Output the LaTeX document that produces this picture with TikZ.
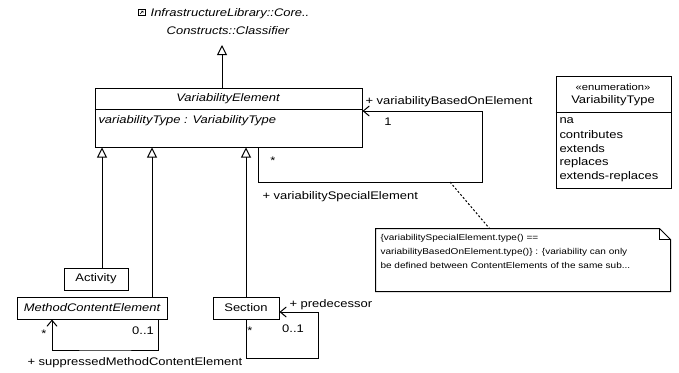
\documentclass[tikz,border=0pt]{standalone}
\usepackage{fontspec}
\setmainfont[FakeStretch=1.18]{Liberation Sans}
\usetikzlibrary{arrows.meta}
\newcommand\umlfont{\fontsize{11}{13}\selectfont}
\begin{document}
\begin{tikzpicture}[x=1pt,y=-1pt,
  line width=1pt,
  every node/.style={inner sep=0pt, font=\umlfont},
  classbox/.style={draw, rectangle, minimum height=22pt},
  italic/.style={font=\umlfont\itshape},
  gen/.style={-{Triangle[open,length=10pt,width=10pt]}},
  nav/.style={-{Straight Barb[length=6pt,width=10pt]}},
  lbl/.style={anchor=west},
  lit/.style={anchor=west},
  notetext/.style={font=\fontsize{8.5}{14}\selectfont, align=left, anchor=north west}
]
\useasboundingbox (0,0) rectangle (679,372);

% imported Classifier (name only, with package icon)
\draw[line width=0.6pt] (138,9) rectangle (145,15);
\draw[line width=0.5pt] (140,14) -- (143,11) (141,11) -- (143,11) -- (143,13);
\node[italic] (cls1) at (230,14) {InfrastructureLibrary::Core..};
\node[italic] (cls2) at (228,31) {Constructs::Classifier};
\coordinate (clsbase) at (222,45);

% VariabilityElement
\node[draw, minimum width=267pt, minimum height=59pt] (ve) at (228.5,117.5) {};
\draw ([yshift=8.5pt]ve.west) -- ([yshift=8.5pt]ve.east);
\node[italic] (vename) at (228,99) {VariabilityElement};
\node[italic, anchor=west] (veattr) at (98,121) {variabilityType : VariabilityType};

% enumeration VariabilityType
\node[draw, minimum width=115pt, minimum height=112pt] (enum) at (613.5,132) {};
\draw ([yshift=20pt]enum.west) -- ([yshift=20pt]enum.east);
\node[font=\fontsize{9.5}{11}\selectfont] (stereo) at (613,87) {«enumeration»};
\node (enumname) at (613,101) {VariabilityType};
\node[lit] (lna) at (559,121) {na};
\node[lit] (lco) at (559,135) {contributes};
\node[lit] (lex) at (559,149) {extends};
\node[lit] (lre) at (559,163) {replaces};
\node[lit] (lxr) at (559,177) {extends-replaces};

% subclasses
\node[classbox, minimum width=64pt] (act) at (96,279) {Activity};
\node[classbox, minimum width=150pt, italic] (mce) at (92,308) {MethodContentElement};
\node[classbox, minimum width=66pt] (sec) at (246,308) {Section};

% generalizations
\draw[gen] ([xshift=-6.5pt]ve.north) -- (clsbase);
\draw[gen] ([xshift=6pt]act.north) -- ([xshift=6pt]act.north |- ve.south);
\draw[gen] ([xshift=60pt]mce.north) -- ([xshift=60pt]mce.north |- ve.south);
\draw[gen] (sec.north) -- (sec.north |- ve.south);

% VariabilityElement self-association
\coordinate (veloop) at (482,182);
\draw[nav] ([xshift=29.5pt]ve.south) |- (veloop) |- ([yshift=6.5pt]ve.east);
\node[lbl] (vbe) at (365,102) {+ variabilityBasedOnElement};
\node (vbem) at (388,122) {1};
\node (vsem) at (273,161) {*};
\node[lbl] (vse) at (262,197) {+ variabilitySpecialElement};

% constraint note
\node[minimum width=294pt, minimum height=62pt] (note) at (523,260) {};
\draw (note.north west) -- ([xshift=-11pt]note.north east) -- ([yshift=-11pt]note.north east)
  -- (note.south east) -- (note.south west) -- cycle;
\draw ([xshift=-11pt]note.north east) |- ([yshift=-11pt]note.north east);
\node[notetext] (notetxt) at (380,234) {\{variabilitySpecialElement.type() ==\\variabilityBasedOnElement.type()\} : \{variability can only\\be defined between ContentElements of the same sub...};
\coordinate (notelink) at (450,182);
\draw[dash pattern=on 2pt off 2pt] (notelink) -- ([xshift=114pt]note.north west);

% MethodContentElement self-association
\coordinate (mceloop) at (105,350);
\draw[nav] ([xshift=66pt]mce.south) |- (mceloop) -| ([xshift=-40pt]mce.south);
\node (smult) at (44,334) {*};
\node (s01) at (143,331) {0..1};
\node[lbl] (smce) at (27,363) {+ suppressedMethodContentElement};

% Section self-association
\coordinate (secloop) at (318,358);
\draw[nav] (sec.south) |- (secloop) |- ([yshift=-4pt]sec.east);
\node (pm) at (250,331) {*};
\node (p01) at (293,329) {0..1};
\node[lbl] (pred) at (289,305) {+ predecessor};
\end{tikzpicture}
\end{document}
